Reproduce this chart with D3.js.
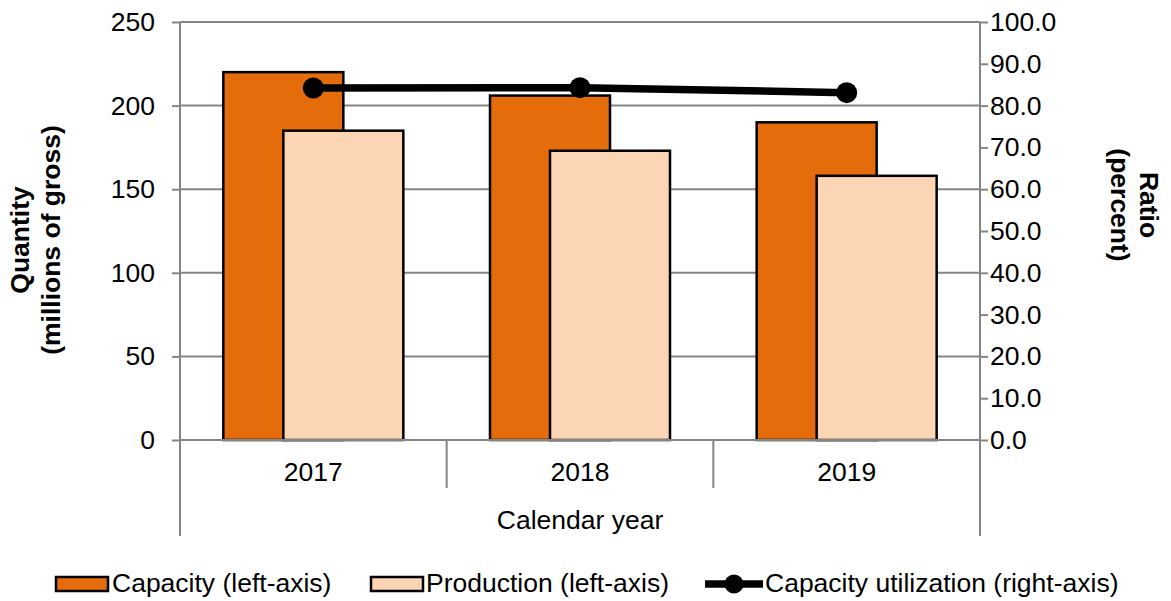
<!DOCTYPE html>
<html>
<head>
<meta charset="utf-8">
<script src="https://cdn.jsdelivr.net/npm/d3@7/dist/d3.min.js"></script>
<style>
  html, body { margin: 0; padding: 0; background: #fff; }
  svg { display: block; font-family: "Liberation Sans", Arial, sans-serif; }
</style>
</head>
<body>
<svg id="chart" width="1171" height="601"></svg>
<script>
const years = ["2017", "2018", "2019"];
const capacity = [220, 206, 190];
const production = [185, 173, 158];
const utilization = [84.2, 84.3, 83.1];
const leftTicks = [0, 50, 100, 150, 200, 250];
const rightTicks = [0, 10, 20, 30, 40, 50, 60, 70, 80, 90, 100];
const legendLabels = ["Capacity (left-axis)", "Production (left-axis)", "Capacity utilization (right-axis)"];

const svg = d3.select("#chart");
const L = 180, R = 980, T = 22, B = 440;
const gridColor = "#858585";
const capColor = "#E46C0A";
const prodColor = "#FCD5B5";
const fs = 26.5;

const x = d3.scaleBand().domain(years).range([L, R]);
const yL = d3.scaleLinear().domain([0, 250]).range([B, T]);
const yR = d3.scaleLinear().domain([0, 100]).range([B, T]);

// gridlines
svg.append("g").selectAll("line").data(leftTicks.filter(d => d > 0)).join("line")
  .attr("x1", L).attr("x2", R).attr("y1", d => yL(d)).attr("y2", d => yL(d))
  .attr("stroke", gridColor).attr("stroke-width", 2);

// bars
const barW = x.bandwidth() * 0.45;
const off = x.bandwidth() * 0.1125;
svg.append("g").selectAll("rect").data(years).join("rect")
  .attr("x", d => x(d) + x.bandwidth() / 2 - off - barW / 2)
  .attr("y", (d, i) => yL(capacity[i]))
  .attr("width", barW)
  .attr("height", (d, i) => yL(0) - yL(capacity[i]))
  .attr("fill", capColor).attr("stroke", "#000").attr("stroke-width", 2.5);
svg.append("g").selectAll("rect").data(years).join("rect")
  .attr("x", d => x(d) + x.bandwidth() / 2 + off - barW / 2)
  .attr("y", (d, i) => yL(production[i]))
  .attr("width", barW)
  .attr("height", (d, i) => yL(0) - yL(production[i]))
  .attr("fill", prodColor).attr("stroke", "#000").attr("stroke-width", 2.5);

// left axis
const axL = svg.append("g").attr("transform", `translate(${L},0)`)
  .call(d3.axisLeft(yL).tickValues(leftTicks).tickSize(8).tickPadding(17).tickSizeOuter(0));
axL.select(".domain").remove();
axL.selectAll(".tick line").attr("stroke", gridColor).attr("stroke-width", 2);
axL.selectAll(".tick text").attr("font-size", fs).attr("fill", "#000").attr("font-family", "Liberation Sans, Arial, sans-serif");

// right axis
const axR = svg.append("g").attr("transform", `translate(${R},0)`)
  .call(d3.axisRight(yR).tickValues(rightTicks).tickFormat(d3.format(".1f")).tickSize(8).tickPadding(2).tickSizeOuter(0));
axR.select(".domain").remove();
axR.selectAll(".tick line").attr("stroke", gridColor).attr("stroke-width", 2);
axR.selectAll(".tick text").attr("font-size", fs).attr("fill", "#000").attr("font-family", "Liberation Sans, Arial, sans-serif");

// vertical axis lines (extending down to frame the category area)
svg.append("line").attr("x1", L).attr("x2", L).attr("y1", T).attr("y2", 536)
  .attr("stroke", gridColor).attr("stroke-width", 2);
svg.append("line").attr("x1", R).attr("x2", R).attr("y1", T).attr("y2", 536)
  .attr("stroke", gridColor).attr("stroke-width", 2);
// x baseline
svg.append("line").attr("x1", L).attr("x2", R).attr("y1", B).attr("y2", B)
  .attr("stroke", gridColor).attr("stroke-width", 2);
// category separators
svg.append("g").selectAll("line").data(years.slice(1)).join("line")
  .attr("x1", d => x(d)).attr("x2", d => x(d)).attr("y1", B).attr("y2", 488)
  .attr("stroke", gridColor).attr("stroke-width", 2);
// category labels
svg.append("g").selectAll("text").data(years).join("text")
  .attr("x", d => x(d) + x.bandwidth() / 2).attr("y", 481)
  .attr("text-anchor", "middle").attr("font-size", fs).text(d => d);
svg.append("text").attr("x", (L + R) / 2).attr("y", 529)
  .attr("text-anchor", "middle").attr("font-size", fs).text("Calendar year");

// line series
const line = d3.line().x((d, i) => x(years[i]) + x.bandwidth() / 2).y(d => yR(d));
svg.append("path").datum(utilization).attr("d", line)
  .attr("fill", "none").attr("stroke", "#000").attr("stroke-width", 7.5);
svg.append("g").selectAll("circle").data(utilization).join("circle")
  .attr("cx", (d, i) => x(years[i]) + x.bandwidth() / 2).attr("cy", d => yR(d))
  .attr("r", 10.5).attr("fill", "#000");

// axis titles
const lt = svg.append("text").attr("transform", "translate(29,240) rotate(-90)")
  .attr("text-anchor", "middle").attr("font-size", fs).attr("font-weight", "bold");
lt.append("tspan").attr("x", 0).attr("y", 0).text("Quantity");
lt.append("tspan").attr("x", 0).attr("y", 31).text("(millions of gross)");
const rt = svg.append("text").attr("transform", "translate(1140,205) rotate(90)")
  .attr("text-anchor", "middle").attr("font-size", fs).attr("font-weight", "bold");
rt.append("tspan").attr("x", 0).attr("y", 0).text("Ratio");
rt.append("tspan").attr("x", 0).attr("y", 29).text("(percent)");

// legend
const lg = svg.append("g");
lg.append("rect").attr("x", 56).attr("y", 577).attr("width", 52).attr("height", 14)
  .attr("fill", capColor).attr("stroke", "#000").attr("stroke-width", 2.5);
lg.append("text").attr("x", 112).attr("y", 592).attr("font-size", fs).text(legendLabels[0]);
lg.append("rect").attr("x", 371).attr("y", 577).attr("width", 52).attr("height", 14)
  .attr("fill", prodColor).attr("stroke", "#000").attr("stroke-width", 2.5);
lg.append("text").attr("x", 426).attr("y", 592).attr("font-size", fs).text(legendLabels[1]);
lg.append("line").attr("x1", 705).attr("x2", 763).attr("y1", 584).attr("y2", 584)
  .attr("stroke", "#000").attr("stroke-width", 7.5);
lg.append("circle").attr("cx", 734).attr("cy", 584).attr("r", 9.5).attr("fill", "#000");
lg.append("text").attr("x", 765).attr("y", 592).attr("font-size", fs).text(legendLabels[2]);
</script>
</body>
</html>
